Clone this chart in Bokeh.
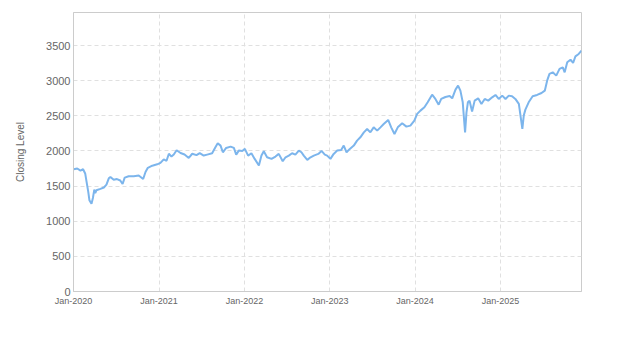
import pandas as pd
from bokeh.plotting import figure
from bokeh.models import (ColumnDataSource, Range1d, FixedTicker, SingleIntervalTicker,
                          DatetimeTickFormatter)
from bokeh.embed import file_html
from bokeh.resources import INLINE

dates = [
    "2020-01-02", "2020-01-17", "2020-01-31", "2020-02-11", "2020-02-20", "2020-02-26",
    "2020-03-04", "2020-03-09", "2020-03-18", "2020-03-24", "2020-03-30", "2020-04-03",
    "2020-04-08", "2020-04-25", "2020-05-10", "2020-05-21", "2020-05-31", "2020-06-07",
    "2020-06-21", "2020-07-05", "2020-07-19", "2020-07-29", "2020-08-07", "2020-08-24",
    "2020-09-15", "2020-10-06", "2020-10-25", "2020-11-04", "2020-11-14", "2020-12-03",
    "2020-12-24", "2021-01-07", "2021-01-21", "2021-02-02", "2021-02-12", "2021-02-23",
    "2021-03-05", "2021-03-17", "2021-04-03", "2021-04-20", "2021-05-08", "2021-05-23",
    "2021-06-10", "2021-06-24", "2021-07-11", "2021-07-26", "2021-08-16", "2021-08-30",
    "2021-09-09", "2021-09-21", "2021-10-01", "2021-10-15", "2021-11-03", "2021-11-17",
    "2021-11-27", "2021-12-08", "2021-12-23", "2022-01-03", "2022-01-17", "2022-01-31",
    "2022-02-14", "2022-03-04", "2022-03-15", "2022-03-25", "2022-04-08", "2022-04-27",
    "2022-05-14", "2022-05-28", "2022-06-14", "2022-06-26", "2022-07-10", "2022-07-24",
    "2022-08-07", "2022-08-22", "2022-09-02", "2022-09-12", "2022-09-27", "2022-10-11",
    "2022-10-25", "2022-11-13", "2022-11-27", "2022-12-11", "2022-12-21", "2023-01-04",
    "2023-01-18", "2023-02-02", "2023-02-19", "2023-03-02", "2023-03-14", "2023-03-28",
    "2023-04-14", "2023-04-28", "2023-05-12", "2023-05-27", "2023-06-10", "2023-06-24",
    "2023-07-08", "2023-07-23", "2023-08-06", "2023-08-20", "2023-09-08", "2023-09-21",
    "2023-10-05", "2023-10-19", "2023-11-07", "2023-11-25", "2023-12-12", "2023-12-29",
    "2024-01-10", "2024-01-24", "2024-02-10", "2024-02-24", "2024-03-14", "2024-03-28",
    "2024-04-11", "2024-04-22", "2024-05-10", "2024-05-28", "2024-06-08", "2024-06-22",
    "2024-07-03", "2024-07-13", "2024-07-23", "2024-08-02", "2024-08-08", "2024-08-14",
    "2024-08-21", "2024-09-01", "2024-09-12", "2024-09-27", "2024-10-11", "2024-10-25",
    "2024-11-09", "2024-11-26", "2024-12-10", "2024-12-24", "2025-01-08", "2025-01-22",
    "2025-02-05", "2025-02-19", "2025-03-05", "2025-03-20", "2025-04-04", "2025-04-10",
    "2025-04-17", "2025-05-01", "2025-05-18", "2025-06-06", "2025-06-25", "2025-07-09",
    "2025-07-19", "2025-07-29", "2025-08-12", "2025-08-27", "2025-09-10", "2025-09-24",
    "2025-10-02", "2025-10-13", "2025-10-27", "2025-11-07", "2025-11-17", "2025-12-01",
    "2025-12-13",
]

closing = [
    1740, 1750, 1720, 1740, 1680, 1560,
    1420, 1300, 1250, 1330, 1450, 1400,
    1440, 1460, 1480, 1520, 1610, 1630,
    1590, 1600, 1580, 1530, 1620, 1640,
    1640, 1650, 1600, 1700, 1760, 1790,
    1810, 1830, 1880, 1860, 1960, 1920,
    1950, 2010, 1970, 1950, 1900, 1960,
    1940, 1970, 1934, 1948, 1967, 2052,
    2109, 2076, 1981, 2043, 2062, 2043,
    1948, 2005, 2000, 2029, 1934, 1967,
    1887, 1792, 1934, 1995, 1910, 1887,
    1920, 1958, 1853, 1910, 1934, 1967,
    1948, 2005, 1981, 1934, 1873, 1910,
    1934, 1958, 2000, 1948, 1934, 1887,
    1958, 2005, 2015, 2076, 1981, 2029,
    2076, 2147, 2194, 2265, 2313, 2265,
    2336, 2289, 2336, 2384, 2441, 2336,
    2242, 2336, 2393, 2346, 2360, 2431,
    2527, 2574, 2621, 2692, 2801, 2740,
    2659, 2740, 2768, 2782, 2749, 2873,
    2930, 2858, 2692, 2265, 2550, 2692,
    2716, 2560, 2716, 2749, 2669, 2740,
    2716, 2763, 2797, 2740, 2787, 2740,
    2787, 2778, 2740, 2669, 2313, 2503,
    2588, 2692, 2778, 2797, 2825, 2858,
    3000, 3096, 3119, 3072, 3167, 3190,
    3119, 3261, 3299, 3252, 3346, 3380,
    3427,
]

x_tick_dates = ["2020-01-01", "2021-01-01", "2022-01-01", "2023-01-01", "2024-01-01", "2025-01-01"]
y_ticks = [0, 500, 1000, 1500, 2000, 2500, 3000, 3500]

x = pd.to_datetime(dates)
src = ColumnDataSource(dict(date=x, close=closing))

x_start = pd.Timestamp("2020-01-01")
x_end = x.max()

p = figure(width=623, height=350, x_axis_type="datetime",
           output_backend="svg", toolbar_location=None,
           x_range=Range1d(x_start, x_end), y_range=Range1d(0, 3970),
           min_border_left=73, min_border_right=42, min_border_top=12,
           min_border_bottom=59)

p.line("date", "close", source=src, line_color="#7cb5ec", line_width=2)

tick_ms = [pd.Timestamp(d).value // 10**6 for d in x_tick_dates]
p.xaxis.ticker = FixedTicker(ticks=tick_ms)
fmt = "%b-%Y"
p.xaxis.formatter = DatetimeTickFormatter(
    milliseconds=fmt, seconds=fmt, minsec=fmt, minutes=fmt, hourmin=fmt,
    hours=fmt, days=fmt, months=fmt, years=fmt)
p.yaxis.ticker = FixedTicker(ticks=y_ticks)
p.yaxis.axis_label = "Closing Level"

font = "Liberation Sans"
for ax in (p.xaxis, p.yaxis):
    ax.axis_line_color = "#cccccc"
    ax.major_tick_line_color = None
    ax.minor_tick_line_color = None
    ax.major_tick_out = 0
    ax.major_label_text_color = "#666666"
    ax.major_label_text_font = font
    ax.axis_label_text_color = "#666666"
    ax.axis_label_text_font = font
    ax.axis_label_text_font_style = "normal"

p.xaxis.major_label_text_font_size = "9px"
p.xaxis.major_label_standoff = 4
p.yaxis.major_label_text_font_size = "11px"
p.yaxis.major_label_standoff = 3
p.yaxis.axis_label_text_font_size = "10px"
p.yaxis.axis_label_standoff = 17

for g in (p.xgrid, p.ygrid):
    g.grid_line_color = "#e0e0e0"
    g.grid_line_dash = "4 3"
    g.grid_line_width = 1

p.outline_line_color = "#cccccc"
p.background_fill_color = "white"
p.border_fill_color = "white"

open("out.html", "w").write(file_html(p, INLINE))
